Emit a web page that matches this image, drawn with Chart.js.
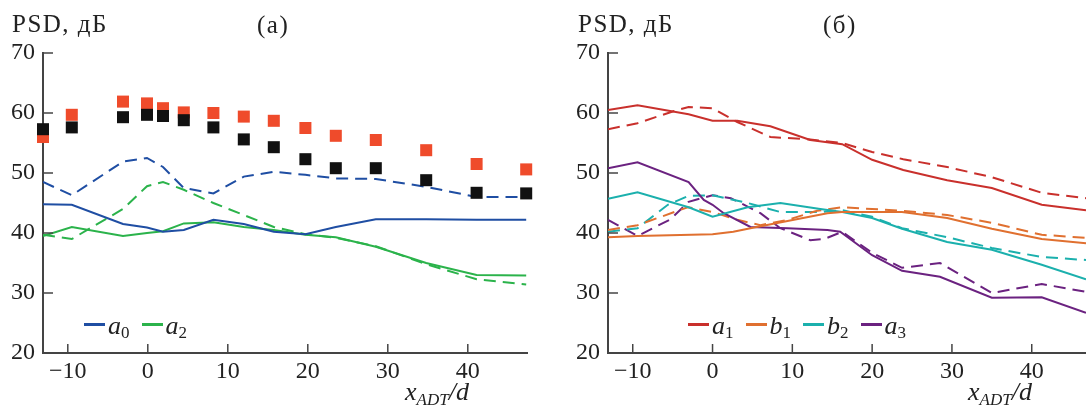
<!DOCTYPE html>
<html>
<head>
<meta charset="utf-8">
<script src="https://cdn.jsdelivr.net/npm/chart.js@4"></script>
<style>
  body { margin: 0; background: #fff; }
  #page { position: relative; width: 1086px; height: 412px; overflow: hidden; font-family: "Liberation Serif", serif; color: #222; }
  .panel { position: absolute; top: 0; width: 543px; height: 412px; }
  .txt { position: absolute; line-height: 1; white-space: nowrap; }
  .ttl { font-size: 25px; letter-spacing: 1.5px; }
  .xt { font-size: 26px; font-style: italic; }
  .xt sub { font-size: 17px; vertical-align: -5px; }
  .legend { position: absolute; line-height: 1; font-size: 26px; white-space: nowrap; }
  .legend .ln { display: inline-block; width: 21px; height: 3px; vertical-align: 0.3em; margin-right: 3px; }
  .legend i { margin-right: 12px; }
  .legend sub { font-style: normal; font-size: 17px; vertical-align: -4px; }
</style>
</head>
<body>
<div id="page">
  <div class="panel" style="left:0"><canvas id="chartA" width="543" height="412"></canvas></div>
  <div class="panel" style="left:543px"><canvas id="chartB" width="543" height="412"></canvas></div>

  <div class="txt ttl" style="left:12px; top:11px">PSD, дБ</div>
  <div class="txt ttl" style="left:257px; top:12px">(a)</div>
  <div class="txt ttl" style="left:578px; top:11px">PSD, дБ</div>
  <div class="txt ttl" style="left:823px; top:12px">(б)</div>
  <div class="txt xt" style="left:405px; top:379px">x<sub>ADT</sub>/d</div>
  <div class="txt xt" style="left:968px; top:379px">x<sub>ADT</sub>/d</div>
  <div class="legend" id="legendA" style="left:84px; top:313px"></div>
  <div class="legend" id="legendB" style="left:688px; top:313px"></div>
</div>
<script>
// axis ticks
const yTicks = [20, 30, 40, 50, 60, 70];
const xTicks = [-10, 0, 10, 20, 30, 40];

// panel (a): probe positions shared by all series
const xA = [-13.1, -9.5, -3.1, -0.1, 1.9, 4.5, 8.2, 12, 15.75, 19.7, 23.5, 28.5, 34.8, 41.1, 47.3];
const blackSq = [57.3, 57.6, 59.3, 59.7, 59.5, 58.8, 57.6, 55.6, 54.3, 52.3, 50.8, 50.8, 48.8, 46.7, 46.6];
const redSq = [56, 59.7, 61.9, 61.6, 60.8, 60.1, 60, 59.4, 58.7, 57.5, 56.2, 55.5, 53.8, 51.5, 50.6];
const a0Solid = [44.8, 44.7, 41.5, 40.9, 40.2, 40.5, 42.2, 41.5, 40.2, 39.8, 41.0, 42.3, 42.3, 42.2, 42.2];
const a0Dash = [48.5, 46.3, 51.9, 52.5, 51, 47.5, 46.6, 49.4, 50.2, 49.7, 49.1, 49, 47.7, 46, 46];
const a2Solid = [39.5, 41, 39.5, 40, 40.3, 41.6, 41.8, 41, 40.5, 39.7, 39.3, 37.7, 35, 33, 32.9];
const a2Dash = [39.7, 39, 44, 47.8, 48.5, 47.2, 45, 43, 41, 39.8, 39.2, 37.8, 34.8, 32.3, 31.4];

// panel (б)
const a1SolidX = [-13.1, -9.4, -3, 0, 3.1, 7.25, 12.25, 16.25, 20, 23.9, 29.4, 35, 41.25, 46.8];
const a1Solid = [60.5, 61.3, 59.8, 58.7, 58.7, 57.8, 55.5, 54.8, 52.2, 50.5, 48.8, 47.5, 44.7, 43.8];
const a1DashX = [-13.1, -9.4, -4.9, -3, 0, 3.1, 7.25, 12.25, 16.25, 20, 23.9, 29.4, 35, 41.25, 46.8];
const a1Dash = [57.3, 58.3, 60.3, 61, 60.8, 58.5, 56, 55.6, 55, 53.5, 52.3, 51, 49.3, 46.7, 45.8];
const b1SolidX = [-13.1, -9.4, 0, 2.6, 4.75, 9.4, 14.4, 16.25, 20, 23.75, 29.4, 35, 41.25, 46.8];
const b1Solid = [39.3, 39.5, 39.8, 40.2, 40.8, 42, 43.3, 43.5, 43.5, 43.5, 42.5, 40.7, 39, 38.3];
const b1DashX = [-13.1, -9.4, -3.1, 0, 3.1, 6, 9.4, 13.1, 16.25, 20, 23.75, 29.4, 35, 41.25, 46.8];
const b1Dash = [40.5, 41.3, 44.3, 43.5, 42.2, 41.3, 42.2, 43.7, 44.3, 44, 43.7, 43, 41.7, 39.7, 39.2];
const b2SolidX = [-13.1, -9.4, -3, 0, 4.4, 8.5, 13.5, 16.25, 20, 23.75, 29.4, 35, 41.25, 46.8];
const b2Solid = [45.7, 46.8, 44.3, 42.7, 44.3, 45, 44, 43.5, 42.5, 40.7, 38.5, 37.2, 34.7, 32.3];
const b2DashX = [-13.1, -9.4, -5.6, -3, 0, 4.4, 8.5, 13.5, 16.25, 20, 23.75, 29.4, 35, 41.25, 46.8];
const b2Dash = [40.2, 40.8, 44.7, 46.2, 46.3, 45, 43.5, 43.5, 43.8, 42.7, 40.8, 39.3, 37.5, 36, 35.5];
const a3SolidX = [-13.1, -9.4, -3, -1.1, 0, 1.4, 4.75, 9.4, 14.4, 16, 20, 23.75, 28.5, 35, 41.25, 46.8];
const a3Solid = [50.8, 51.8, 48.5, 45.5, 44.7, 43.3, 41, 40.8, 40.5, 40.2, 36.3, 33.7, 32.7, 29.2, 29.3, 26.7];
const a3DashX = [-13.1, -9.4, -5.25, -3, 0, 2.3, 6, 8.5, 12.25, 14, 16.25, 20, 23.75, 28.5, 35, 41.25, 46.8];
const a3Dash = [42.2, 39.5, 42.3, 45.2, 46.3, 45.8, 43.3, 40.8, 38.8, 39, 40.2, 36.7, 34.2, 35, 30, 31.5, 30.2];

const pts = (xs, ys) => xs.map((x, i) => ({ x: x, y: ys[i] }));

function line(xs, ys, color, dashed, legend) {
  return {
    data: pts(xs, ys),
    showLine: true,
    borderColor: color,
    backgroundColor: color,
    borderWidth: 2,
    borderDash: dashed ? [12, 7] : [],
    pointRadius: 0,
    tension: 0,
    legend: legend
  };
}

function squares(xs, ys, color) {
  return {
    data: pts(xs, ys),
    pointStyle: 'rect',
    pointRadius: 8.5,
    pointBorderWidth: 0,
    backgroundColor: color,
    borderColor: color,
    clip: false
  };
}

// tick marks point into the plot
const innerTicks = {
  id: 'innerTicks',
  afterDraw(chart) {
    const { ctx, chartArea: a, scales: { x, y } } = chart;
    ctx.save();
    ctx.strokeStyle = '#444';
    ctx.lineWidth = 1.5;
    x.ticks.forEach(t => {
      const px = x.getPixelForValue(t.value);
      ctx.beginPath(); ctx.moveTo(px, a.bottom); ctx.lineTo(px, a.bottom - 9); ctx.stroke();
    });
    y.ticks.forEach(t => {
      const py = y.getPixelForValue(t.value);
      ctx.beginPath(); ctx.moveTo(a.left, py); ctx.lineTo(a.left + 10, py); ctx.stroke();
    });
    ctx.restore();
  }
};

function makeChart(id, datasets, xMin, xMax, yWidth, padRight) {
  const font = { family: '"Liberation Serif", serif', size: 24 };
  return new Chart(document.getElementById(id), {
    type: 'scatter',
    data: { datasets: datasets },
    options: {
      responsive: false,
      animation: false,
      layout: { padding: { top: 53, right: padRight, left: 0, bottom: 0 } },
      plugins: { legend: { display: false }, tooltip: { enabled: false } },
      scales: {
        x: {
          type: 'linear', min: xMin, max: xMax,
          afterBuildTicks: s => { s.ticks = xTicks.map(v => ({ value: v })); },
          afterFit: s => { s.height = 59; },
          grid: { display: false, drawTicks: false },
          border: { color: '#444', width: 2 },
          ticks: { font: font, color: '#222', padding: 4, callback: v => v < 0 ? '\u2212' + Math.abs(v) : v }
        },
        y: {
          min: 20, max: 70,
          afterBuildTicks: s => { s.ticks = yTicks.map(v => ({ value: v })); },
          afterFit: s => { s.width = yWidth; },
          grid: { display: false, drawTicks: false },
          border: { color: '#444', width: 2 },
          ticks: { font: font, color: '#222', padding: 8 }
        }
      }
    },
    plugins: [innerTicks]
  });
}

function buildLegend(chart, elId) {
  const el = document.getElementById(elId);
  el.innerHTML = chart.data.datasets.filter(d => d.legend).map(d =>
    '<span class="ln" style="background:' + d.borderColor + '"></span><i>' + d.legend[0] + '<sub>' + d.legend[1] + '</sub></i>'
  ).join('');
}

const blue = '#1f4ea3', green = '#2bb34b';
const chartA = makeChart('chartA', [
  squares(xA, blackSq, '#111'),
  squares(xA, redSq, '#ef4b2b'),
  line(xA, a0Solid, blue, false, ['a', '0']),
  line(xA, a2Solid, green, false, ['a', '2']),
  line(xA, a0Dash, blue, true),
  line(xA, a2Dash, green, true)
], -13.1, 47.4, 43, 16);
buildLegend(chartA, 'legendA');

const red = '#c9302c', orange = '#e07030', teal = '#1bb0ad', purple = '#6b2280';
const chartB = makeChart('chartB', [
  line(a1SolidX, a1Solid, red, false, ['a', '1']),
  line(b1SolidX, b1Solid, orange, false, ['b', '1']),
  line(b2SolidX, b2Solid, teal, false, ['b', '2']),
  line(a3SolidX, a3Solid, purple, false, ['a', '3']),
  line(a1DashX, a1Dash, red, true),
  line(b1DashX, b1Dash, orange, true),
  line(b2DashX, b2Dash, teal, true),
  line(a3DashX, a3Dash, purple, true)
], -13.1, 46.8, 65, 0);
buildLegend(chartB, 'legendB');
</script>
</body>
</html>
